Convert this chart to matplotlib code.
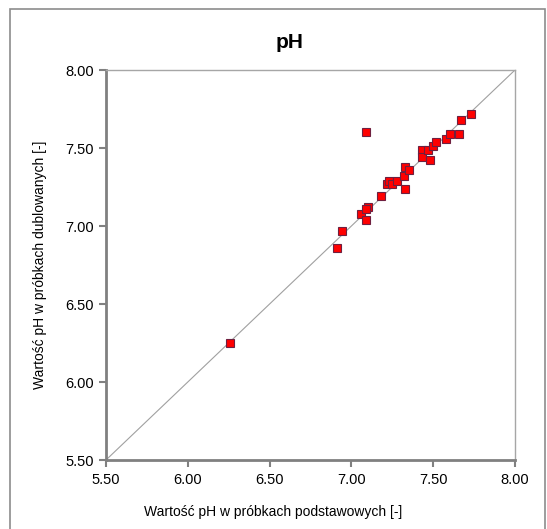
import matplotlib
matplotlib.use('Agg')
import matplotlib.pyplot as plt
from matplotlib.patches import Rectangle

plt.rcParams['font.family'] = ['Liberation Sans', 'DejaVu Sans']

# pH in base samples (x) vs duplicate samples (y)
ph_base = [6.26, 6.91, 6.94, 7.06, 7.09, 7.10, 7.09, 7.09, 7.18, 7.22, 7.23,
           7.25, 7.28, 7.33, 7.32, 7.33, 7.35, 7.43, 7.43, 7.47, 7.48, 7.50,
           7.52, 7.58, 7.60, 7.66, 7.67, 7.73]
ph_dup = [6.25, 6.86, 6.97, 7.08, 7.04, 7.12, 7.11, 7.60, 7.19, 7.27, 7.29,
          7.27, 7.29, 7.24, 7.32, 7.38, 7.36, 7.49, 7.44, 7.49, 7.42, 7.51,
          7.54, 7.56, 7.59, 7.59, 7.68, 7.72]
ticks = [5.50, 6.00, 6.50, 7.00, 7.50, 8.00]

W, H = 547, 529
fig = plt.figure(figsize=(W / 100, H / 100), dpi=100)

# outer chart frame
fig.patches.append(Rectangle((10 / W, -0.05), 535 / W, 1.05 - 9 / H,
                             transform=fig.transFigure, fill=False,
                             edgecolor='#8c8c8c', linewidth=1.2))

ax = fig.add_axes([106 / W, 1 - 460 / H, 409 / W, 390 / H])
ax.set_xlim(5.5, 8.0)
ax.set_ylim(5.5, 8.0)

# 1:1 line
ax.plot([5.5, 8.0], [5.5, 8.0], color='#a0a0a0', linewidth=0.8, zorder=1)

ax.plot(ph_base, ph_dup, linestyle='none', marker='s', markersize=6,
        markerfacecolor='#ff0000', markeredgecolor='#6e2040',
        markeredgewidth=0.8, zorder=3)

ax.set_xticks(ticks)
ax.set_yticks(ticks)
ax.set_xticklabels([f'{t:.2f}' for t in ticks])
ax.set_yticklabels([f'{t:.2f}' for t in ticks])
ax.tick_params(direction='out', length=5, width=1.5, color='#808080',
               labelsize=10.5, pad=4)

for side in ['left', 'bottom']:
    ax.spines[side].set_color('#808080')
    ax.spines[side].set_linewidth(2)
for side in ['top', 'right']:
    ax.spines[side].set_color('#a6a6a6')
    ax.spines[side].set_linewidth(1)

fig.text(290 / W, 1 - 43 / H, 'pH', ha='center', va='center',
         fontsize=15, fontweight='bold')
fig.text(273 / W, 1 - 512 / H, 'Wartość pH w próbkach podstawowych [-]',
         ha='center', va='center', fontsize=10)
fig.text(40 / W, 1 - 265 / H, 'Wartość pH w próbkach dublowanych [-]',
         ha='center', va='center', rotation=90, fontsize=10)

fig.savefig('out.png', dpi=100)
